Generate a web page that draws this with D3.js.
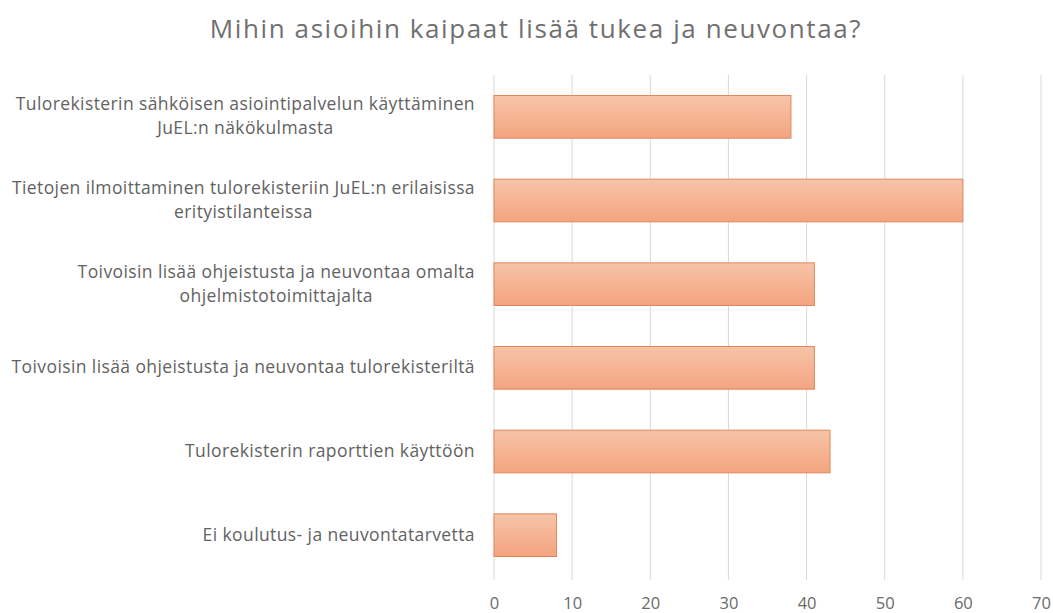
<!DOCTYPE html>
<html><head><meta charset="utf-8">
<script src="https://cdn.jsdelivr.net/npm/d3@7"></script>
<style>body{margin:0;background:#fff}svg{display:block}</style>
</head><body>
<svg id="c" width="1053" height="613"></svg>
<script>
const title = "Mihin asioihin kaipaat lisää tukea ja neuvontaa?";
const categories = [
  ["Tulorekisterin sähköisen asiointipalvelun käyttäminen", "JuEL:n näkökulmasta"],
  ["Tietojen ilmoittaminen tulorekisteriin JuEL:n erilaisissa", "erityistilanteissa"],
  ["Toivoisin lisää ohjeistusta ja neuvontaa omalta", "ohjelmistotoimittajalta"],
  ["Toivoisin lisää ohjeistusta ja neuvontaa tulorekisteriltä"],
  ["Tulorekisterin raporttien käyttöön"],
  ["Ei koulutus- ja neuvontatarvetta"]
];
const values = [38, 60, 41, 41, 43, 8];
const ticks = [0, 10, 20, 30, 40, 50, 60, 70];

const svg = d3.select("#c");
const font = "'Open Sans', sans-serif";
const grey = "#626262";

const x = d3.scaleLinear().domain([0, 70]).range([494, 1041]);
const y = d3.scaleBand().domain(d3.range(categories.length)).range([75, 577]).paddingInner(0.49).paddingOuter(0.245);

const defs = svg.append("defs");
const g = defs.append("linearGradient").attr("id", "grad").attr("x1", 0).attr("y1", 0).attr("x2", 0).attr("y2", 1);
g.append("stop").attr("offset", "0%").attr("stop-color", "#f7c4a9");
g.append("stop").attr("offset", "100%").attr("stop-color", "#f4a47f");

// gridlines
svg.append("g").selectAll("line").data(ticks).join("line")
  .attr("x1", d => x(d)).attr("x2", d => x(d))
  .attr("y1", 75).attr("y2", 580)
  .attr("stroke", "#d9d9d9").attr("stroke-width", 1);

// axis labels
const xa = svg.append("g").attr("transform", "translate(0,580)")
  .call(d3.axisBottom(x).tickValues(ticks).tickSize(0).tickPadding(17));
xa.select(".domain").remove();
xa.selectAll("text").attr("font-family", font).attr("font-size", 16.5).attr("fill", "#6a6a6a");

// bars
svg.append("g").selectAll("rect").data(values).join("rect")
  .attr("x", x(0)).attr("y", (d, i) => y(i))
  .attr("width", d => x(d) - x(0)).attr("height", y.bandwidth())
  .attr("fill", "url(#grad)").attr("stroke", "#e0875a").attr("stroke-width", 1);

// category labels
const lab = svg.append("g");
categories.forEach((lines, i) => {
  const cy = y(i) + y.bandwidth() / 2;
  const lh = 24;
  const t = lab.append("text").attr("font-family", font).attr("font-size", 17.5)
    .attr("letter-spacing", 0.4).attr("fill", grey);
  lines.forEach((ln, j) => {
    t.append("tspan").attr("y", cy + (j - (lines.length - 1) / 2) * lh + 5.5).text(ln);
  });
  const tsp = t.selectAll("tspan").nodes();
  const widths = tsp.map(n => n.getComputedTextLength());
  const maxW = d3.max(widths);
  const right = 475;
  tsp.forEach(n => d3.select(n).attr("x", right - maxW / 2).attr("text-anchor", "middle"));
});

svg.append("text").attr("x", 536).attr("y", 38).attr("text-anchor", "middle")
  .attr("font-family", font).attr("font-size", 26).attr("letter-spacing", 1.6)
  .attr("fill", "#707070").text(title);
</script>
</body></html>
